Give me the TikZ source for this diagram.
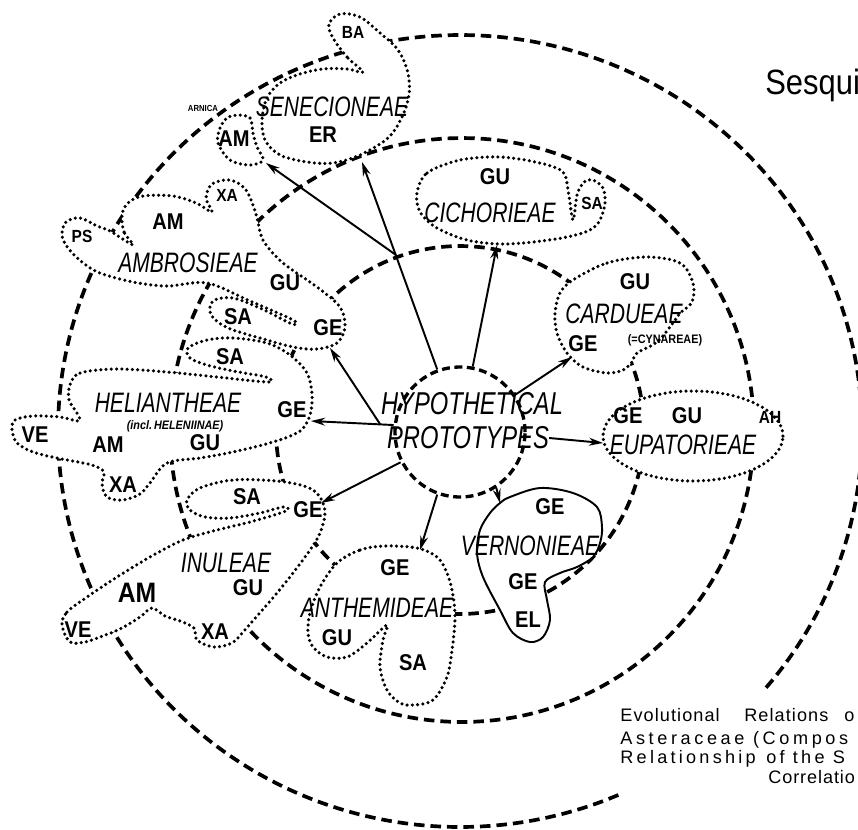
\documentclass[tikz,border=0pt]{standalone}
\usepackage{fontspec}
\setmainfont{Liberation Sans}
\newfontfamily\tribefont[FakeStretch=0.75]{Liberation Sans}
\newfontfamily\codefont[FakeStretch=0.88]{Liberation Sans}
\newfontfamily\notefont{Liberation Sans}
\usetikzlibrary{arrows.meta}

\begin{document}
\begin{tikzpicture}[x=0.02cm,y=-0.02cm]
	\tikzstyle{ring} = [line width=2.1pt,dash pattern=on 6pt off 3.4pt]
	\tikzstyle{grp} = [line width=2pt,dash pattern=on 0pt off 3pt,line cap=round,fill=white]
	\tikzstyle{hub} = [circle,draw,line width=1.9pt,dash pattern=on 4.5pt off 2.6pt,
	minimum size=2.6cm,inner sep=0pt]
	\tikzstyle{arr} = [line width=1.1pt,-{Stealth[length=8pt,width=4.5pt]}]
	\tikzstyle{tribe} = [inner sep=0pt,font=\tribefont\itshape\fontsize{16}{18}\selectfont]
	\tikzstyle{code} = [inner sep=0pt,font=\codefont\bfseries\fontsize{13}{15}\selectfont]
	\tikzstyle{smallcode} = [inner sep=0pt,font=\codefont\bfseries\fontsize{10}{12}\selectfont]
	\tikzstyle{note} = [inner sep=0pt,font=\codefont\bfseries\fontsize{7}{8}\selectfont]
	\tikzstyle{caption} = [inner sep=0pt,anchor=west,font=\notefont\fontsize{10.3}{12}\selectfont]

	\useasboundingbox (0,0) rectangle (858,829);
	\clip (0,0) rectangle (858,829);

	% the three rings
	\draw[ring] (460,430) circle[radius=3.68cm];
	\draw[ring] (462,430) circle[radius=5.84cm];
	\draw[ring] plot[domain=66.8:400.7,samples=160,smooth] ({460+402*cos(\x)},{431+396*sin(\x)});

	% tribes
	\draw[grp] plot[smooth cycle,tension=0.55] coordinates {(363,72) (347,57) (333,38) (329,24) (340,14)
	(360,17) (380,33) (398,50) (408,73) (409,95) (402,117) (388,138) (360,155) (333,163) (307,162)
	(280,155) (265,140) (262,120) (267,98) (280,83) (300,74) (323,69) (347,69)};
	\draw[grp] plot[smooth cycle,tension=0.55] coordinates {(237,115) (250,118) (253,133) (257,147)
	(263,160) (250,165) (230,160) (218,143) (220,128) (227,118)};
	\draw[grp] plot[smooth cycle,tension=0.55] coordinates {(133,245) (124,232) (122,215) (128,203)
	(143,196) (173,196) (196,203) (212,212) (206,198) (212,184) (230,180) (246,190) (256,214) (263,240)
	(283,263) (317,287) (340,307) (345,327) (337,343) (317,349) (293,347) (260,338) (228,328) (211,315)
	(213,301) (233,298) (262,309) (292,324) (293,320) (250,301) (207,283) (167,286) (133,282) (100,273)
	(82,262) (68,248) (62,235) (66,222) (80,218) (97,226) (110,231)};
	\draw[grp] plot[smooth cycle,tension=0.55] coordinates {(70,385) (80,373) (117,369) (167,372)
	(217,377) (268,382) (266,377) (233,371) (207,365) (190,358) (188,348) (207,340) (233,338) (267,343)
	(290,355) (307,373) (312,395) (310,415) (300,431) (273,442) (233,452) (200,458) (167,463) (150,483)
	(140,494) (123,500) (107,497) (102,484) (104,472) (95,466) (83,463) (57,458) (33,452) (17,443)
	(12,430) (15,420) (33,416) (60,417) (79,421) (77,413) (69,400)};
	\draw[grp] plot[smooth cycle,tension=0.55] coordinates {(62,625) (67,612) (87,597) (117,577)
	(150,557) (183,540) (217,530) (250,522) (286,511) (283,507) (260,513) (230,518) (205,517) (190,510)
	(187,500) (200,488) (233,480) (277,481) (307,487) (320,497) (325,513) (320,533) (310,550) (293,573)
	(277,593) (258,615) (243,632) (232,643) (214,647) (197,640) (194,628) (180,621) (165,616) (152,608)
	(140,617) (120,629) (100,637) (85,642) (70,642)};
	\draw[grp] plot[smooth cycle,tension=0.55] coordinates {(337,563) (360,550) (385,546) (417,548)
	(437,557) (447,573) (453,595) (455,620) (452,650) (447,677) (433,700) (413,705) (400,703) (387,690)
	(380,667) (383,640) (387,625) (367,643) (347,657) (327,657) (313,647) (308,633) (310,613) (320,587)};
	\draw[line width=1.1pt,fill=white] plot[smooth cycle,tension=0.55] coordinates {(510,497) (540,488)
	(573,493) (597,507) (602,527) (600,543) (593,557) (577,567) (560,573) (545,582) (547,600) (550,620)
	(543,637) (530,642) (513,633) (500,610) (483,577) (477,553) (480,530) (490,513) (500,503)};
	\draw[grp] (693,436) ellipse[x radius=1.8cm,y radius=0.9cm];
	\draw[grp] plot[smooth cycle,tension=0.55] coordinates {(573,280) (607,263) (647,257) (680,263)
	(693,283) (692,302) (680,313) (673,323) (657,342) (637,353) (632,362) (623,370) (607,373) (583,367)
	(567,353) (557,333) (555,313) (560,293)};
	\draw[grp] plot[smooth cycle,tension=0.55] coordinates {(417,193) (427,173) (460,160) (500,157)
	(540,163) (563,172) (568,190) (573,220) (577,195) (584,182) (593,180) (603,188) (605,203) (600,220)
	(590,230) (567,237) (533,242) (500,244) (467,240) (437,228) (420,212)};

	% centre and arrows
	\node (proto) [hub] at (460,432) {};
	\node (hypo) [tribe,font=\tribefont\itshape\fontsize{18}{20}\selectfont] at (472,404) {HYPOTHETICAL};
	\node (protxt) [tribe,font=\tribefont\itshape\fontsize{18}{20}\selectfont,below of=hypo,
	node distance=0.68cm,xshift=-0.08cm] {PROTOTYPES};

	\coordinate (e1) at (362,162);
	\coordinate (e2) at (497,245);
	\coordinate (e3) at (572,357);
	\coordinate (e4) at (603,443);
	\coordinate (e5) at (500,503);
	\coordinate (e6) at (420,550);
	\coordinate (e7) at (321,503);
	\coordinate (e8) at (311,421);
	\coordinate (e9) at (330,348);
	\coordinate (e10) at (266,163);
	\coordinate (fork1) at (396,255);
	\coordinate (fork2) at (380,424);

	\draw[arr] (proto.110) -- (e1);
	\draw[arr] (fork1) -- (e10);
	\draw[arr] (proto.79) -- (e2);
	\draw[arr] (proto.34) -- (e3);
	\draw[arr] (protxt.east) -- (e4);
	\draw[arr] (proto.-57) -- (e5);
	\draw[arr] (proto.-110) -- (e6);
	\draw[arr] (proto.-153) -- (e7);
	\draw[arr] (proto.174) -- (e8);
	\draw[arr] (fork2) -- (e9);

	% labels
	\node (sene) [tribe] at (332,107) {SENECIONEAE};
	\node (ser) [code] at (323,135) {ER};
	\node (sba) [smallcode] at (353,32) {BA};
	\node (sam) [code] at (234,139) {AM};
	\node (arnica) [note,font=\codefont\bfseries\fontsize{5}{6}\selectfont] at (203,108) {ARNICA};

	\node (ambr) [tribe] at (188,263) {AMBROSIEAE};
	\node (aam) [code] at (168,222) {AM};
	\node (agu) [code] at (285,283) {GU};
	\node (age) [code] at (328,328) {GE};
	\node (aps) [smallcode] at (82,236) {PS};
	\node (axa) [smallcode] at (227,195) {XA};
	\node (asa) [code] at (238,317) {SA};

	\node (heli) [tribe] at (168,403) {HELIANTHEAE};
	\node (incl) [note,font=\codefont\bfseries\itshape\fontsize{7}{8}\selectfont] at (175,426) {(incl.\,HELENIINAE)};
	\node (hve) [code] at (35,435) {VE};
	\node (ham) [code] at (108,445) {AM};
	\node (hgu) [code] at (205,443) {GU};
	\node (hge) [code] at (292,410) {GE};
	\node (hsa) [code] at (230,357) {SA};
	\node (hxa) [code] at (123,485) {XA};

	\node (inul) [tribe] at (226,563) {INULEAE};
	\node (iam) [code,font=\codefont\bfseries\fontsize{16}{18}\selectfont] at (137,593) {AM};
	\node (igu) [code] at (248,588) {GU};
	\node (ive) [code] at (78,630) {VE};
	\node (ixa) [code] at (215,632) {XA};
	\node (isa) [code] at (247,497) {SA};
	\node (ige) [code] at (308,510) {GE};

	\node (anth) [tribe] at (377,608) {ANTHEMIDEAE};
	\node (nge) [code] at (395,568) {GE};
	\node (ngu) [code] at (337,638) {GU};
	\node (nsa) [code] at (413,663) {SA};

	\node (vern) [tribe] at (530,546) {VERNONIEAE};
	\node (vge1) [code] at (550,507) {GE};
	\node (vge2) [code] at (523,582) {GE};
	\node (vel) [code] at (528,620) {EL};

	\node (eupa) [tribe] at (683,445) {EUPATORIEAE};
	\node (ege) [code] at (628,416) {GE};
	\node (egu) [code] at (687,416) {GU};
	\node (eah) [smallcode] at (770,417) {AH};

	\node (card) [tribe] at (624,314) {CARDUEAE};
	\node (cgu) [code] at (635,282) {GU};
	\node (cge) [code] at (583,344) {GE};
	\node (cyna) [note] at (665,340) {(=CYNAREAE)};

	\node (cich) [tribe] at (490,213) {CICHORIEAE};
	\node (kgu) [code] at (495,177) {GU};
	\node (ksa) [smallcode] at (592,203) {SA};

	% title and caption at the page edge
	\node (title) [anchor=west,inner sep=0pt,font=\codefont\fontsize{20}{24}\selectfont] at (765,85) {Sesqui};
	\node (cap1) [caption] at (620,715) {\addfontfeature{LetterSpace=6}Evolutional\hspace{14pt}Relations\hspace{9pt}o};
	\node (cap2) [caption] at (620,740) {\addfontfeature{LetterSpace=20}Asteraceae (Compos};
	\node (cap3) [caption] at (620,759) {\addfontfeature{LetterSpace=18}Relationship\hspace{6pt}of the S};
	\node (cap4) [caption] at (768,777) {\addfontfeature{LetterSpace=5}Correlatio};
\end{tikzpicture}
\end{document}
